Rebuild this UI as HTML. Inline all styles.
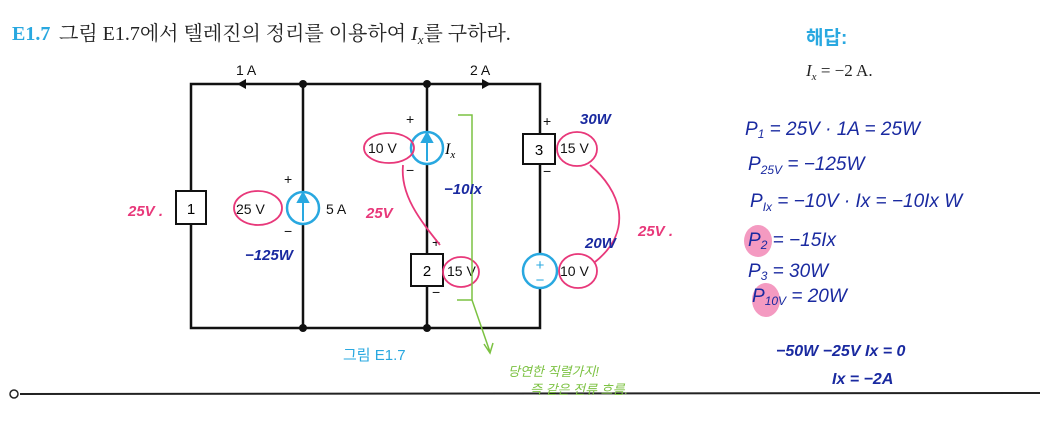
<!DOCTYPE html>
<html><head><meta charset="utf-8"><style>
body{margin:0;background:#fff;width:1040px;height:432px;overflow:hidden}
svg{display:block}
.t{font-family:"Liberation Sans","Noto Sans CJK KR",sans-serif}
.s{font-family:"Liberation Serif","Noto Serif CJK SC",serif}
.h{font-family:"Liberation Sans","Noto Sans CJK KR",sans-serif;font-style:italic}
</style></head><body>
<svg width="1040" height="432" viewBox="0 0 1040 432" xmlns="http://www.w3.org/2000/svg">
<text x="12" y="40" class="s" font-size="20" font-weight="bold" fill="#29a8e0">E1.7</text>
<text x="59" y="40" class="s" font-size="20" fill="#222">그림 E1.7에서 텔레진의 정리를 이용하여 <tspan font-style="italic">I</tspan><tspan font-style="italic" font-size="13" dy="4">x</tspan><tspan dy="-4">를 구하라.</tspan></text>
<text x="806" y="44" class="t" font-size="19" font-weight="bold" fill="#29a8e0">해답:</text>
<text x="806" y="76" class="s" font-size="17" fill="#222"><tspan font-style="italic">I</tspan><tspan font-style="italic" font-size="11" dy="4">x</tspan><tspan dy="-4"> = −2 A.</tspan></text>
<g stroke="#111" stroke-width="2.5" fill="none">
<path d="M191 84H540V328H191Z"/>
<line x1="303" y1="84" x2="303" y2="328"/>
<line x1="427" y1="84" x2="427" y2="328"/>
</g>
<circle cx="303" cy="84" r="4" fill="#111"/><circle cx="427" cy="84" r="4" fill="#111"/>
<circle cx="303" cy="328" r="4" fill="#111"/><circle cx="427" cy="328" r="4" fill="#111"/>
<path d="M246 79l-9 5 9 5z" fill="#111"/><path d="M482 79l9 5-9 5z" fill="#111"/>
<text x="236" y="75" class="t" font-size="14" fill="#111">1 A</text>
<text x="470" y="75" class="t" font-size="14" fill="#111">2 A</text>
<g fill="#fff" stroke="#111" stroke-width="2">
<rect x="176" y="191" width="30" height="33"/>
<rect x="411" y="254" width="32" height="32"/>
<rect x="523" y="134" width="32" height="30"/>
</g>
<text x="191" y="214" class="t" font-size="15" text-anchor="middle">1</text>
<text x="427" y="276" class="t" font-size="15" text-anchor="middle">2</text>
<text x="539" y="155" class="t" font-size="15" text-anchor="middle">3</text>
<g fill="#fff" stroke="#29a8e0" stroke-width="2.5">
<circle cx="303" cy="208" r="16"/><circle cx="427" cy="148" r="16"/><circle cx="540" cy="271" r="17"/>
</g>
<g stroke="#29a8e0" stroke-width="2" fill="#29a8e0">
<line x1="303" y1="221" x2="303" y2="200"/><path d="M298 202l5-9 5 9z"/>
<line x1="427" y1="161" x2="427" y2="140"/><path d="M422 142l5-9 5 9z"/>
</g>
<text x="540" y="270" class="t" font-size="15" fill="#29a8e0" text-anchor="middle">+</text>
<text x="540" y="285" class="t" font-size="15" fill="#29a8e0" text-anchor="middle">−</text>
<g class="t" font-size="14" fill="#111">
<text x="236" y="214">25 V</text><text x="326" y="214">5 A</text><text x="284" y="184">+</text><text x="284" y="236">−</text>
<text x="368" y="153">10 V</text><text x="406" y="124">+</text><text x="406" y="175">−</text>
<text x="447" y="276">15 V</text><text x="432" y="247">+</text><text x="432" y="297">−</text>
<text x="560" y="153">15 V</text><text x="543" y="126">+</text><text x="543" y="176">−</text>
<text x="560" y="276">10 V</text>
</g>
<text x="445" y="154" class="s" font-size="16" font-style="italic">I<tspan font-size="11" dy="4">x</tspan></text>
<text x="343" y="360" class="t" font-size="15" fill="#29a8e0">그림 E1.7</text>
<line x1="20" y1="394" x2="1040" y2="393" stroke="#222" stroke-width="2"/>
<circle cx="14" cy="394" r="4" fill="none" stroke="#222" stroke-width="1.5"/>
<g fill="none" stroke="#e8387a" stroke-width="1.8">
<ellipse cx="258" cy="208" rx="24" ry="17"/>
<ellipse cx="389" cy="148" rx="25" ry="15"/>
<ellipse cx="461" cy="272" rx="18" ry="15"/>
<ellipse cx="577" cy="149" rx="20" ry="17"/>
<ellipse cx="578" cy="271" rx="19" ry="17"/>
<path d="M403 165C400 195 420 220 440 245"/>
<path d="M590 165C620 190 635 230 595 262"/>
</g>
<g class="h" fill="#e8387a" font-size="15" font-weight="bold">
<text x="128" y="216">25V .</text><text x="366" y="218">25V</text><text x="638" y="236">25V .</text>
</g>
<g fill="none" stroke="#7cc242" stroke-width="1.5">
<path d="M458 115h14v185h-15M472 300L490 352M484 344l6 9 3-10"/>
</g>
<g class="h" fill="#7cc242" font-size="13"><text x="508" y="376">당연한 직렬가지!</text><text x="530" y="394">즉 같은 전류 흐름.</text></g>
<g fill="#f49ac1"><ellipse cx="758" cy="241" rx="14" ry="16"/><ellipse cx="766" cy="300" rx="14" ry="17"/></g>
<g class="h" fill="#1a2aa0" font-size="15" font-weight="bold">
<text x="580" y="124">30W</text><text x="585" y="248">20W</text><text x="444" y="194">−10Ix</text><text x="245" y="260">−125W</text>
<text x="745" y="135" font-size="19" font-weight="normal">P<tspan font-size="12" dy="3">1</tspan><tspan dy="-3"> = 25V · 1A = 25W</tspan></text>
<text x="748" y="170" font-size="19" font-weight="normal">P<tspan font-size="12" dy="4">25V</tspan><tspan dy="-4"> = −125W</tspan></text>
<text x="750" y="207" font-size="19" font-weight="normal">P<tspan font-size="12" dy="4">Ix</tspan><tspan dy="-4"> = −10V · Ix = −10Ix W</tspan></text>
<text x="748" y="246" font-size="19" font-weight="normal">P<tspan font-size="12" dy="3">2</tspan><tspan dy="-3">  = −15Ix</tspan></text>
<text x="748" y="277" font-size="19" font-weight="normal">P<tspan font-size="12" dy="3">3</tspan><tspan dy="-3">  =   30W</tspan></text>
<text x="752" y="302" font-size="19" font-weight="normal">P<tspan font-size="12" dy="3">10V</tspan><tspan dy="-3"> =  20W</tspan></text>
<text x="776" y="356" font-size="16">−50W  −25V Ix = 0</text>
<text x="832" y="384" font-size="16">Ix = −2A</text>
</g>
</svg>
</body></html>
